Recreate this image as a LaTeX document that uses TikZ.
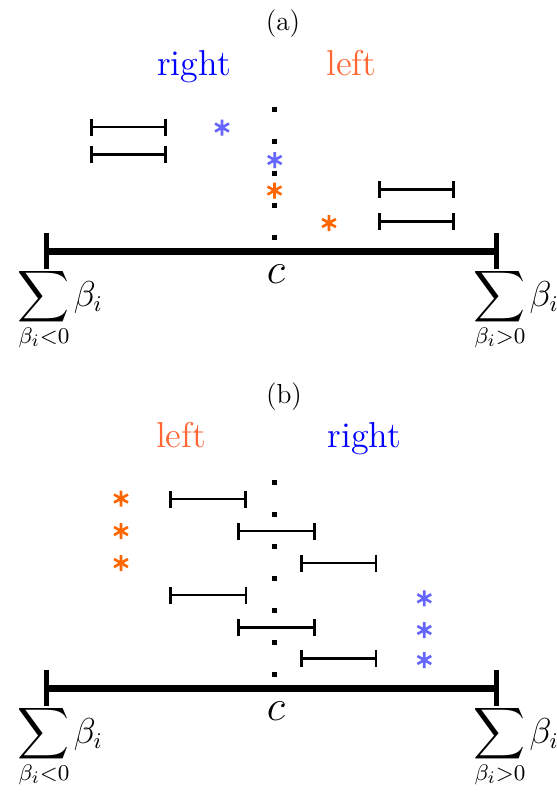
\documentclass[tikz,border=0pt]{standalone}
\usepackage{exscale}
\usetikzlibrary{arrows.meta}
\definecolor{wordblue}{RGB}{0,0,255}
\definecolor{wordorange}{RGB}{255,102,51}
\definecolor{starblue}{RGB}{102,102,255}
\definecolor{starorange}{RGB}{255,102,0}
\begin{document}
\begin{tikzpicture}[x=0.4pt,y=-0.4pt,
  every node/.style={inner sep=0pt, outer sep=0pt},
  interval/.style={line width=1.1pt, {Bar[width=6.8pt]}-{Bar[width=6.8pt]}},
  axisbar/.style={line width=2.8pt, {Bar[width=14.4pt,line width=2.1pt]}-{Bar[width=14.4pt,line width=2.1pt]}},
  centreline/.style={line width=2pt, dash pattern=on 2pt off 10.8pt},
  panel/.style={font=\fontsize{11}{13}\selectfont, anchor=base},
  word/.style={font=\fontsize{14.4}{17}\selectfont, anchor=base},
  cval/.style={font=\fontsize{17.28}{20}\selectfont, anchor=base},
  sumlabel/.style={font=\fontsize{13.5}{16}\selectfont, anchor=base},
  ast/.pic={\draw[line width=1.05pt] (0,-8) -- (0,8) (-6.93,-4) -- (6.93,4) (-6.93,4) -- (6.93,-4);}
]
\useasboundingbox (0,0) rectangle (556,796);

% ---------------- panel (a) ----------------
\node[panel] (labela) at (283,30) {(a)};
\node[word, text=wordblue] (righta) at (194,75) {right};
\node[word, text=wordorange] (lefta) at (351.5,75) {left};

\coordinate (ctopa) at (274.6,106.8);
\coordinate (cbota) at (274.6,240);
\draw[centreline] (ctopa) -- (cbota);

\coordinate (a1l) at (90,127);    \coordinate (a1r) at (167,127);
\coordinate (a2l) at (90,154.3);  \coordinate (a2r) at (167,154.3);
\coordinate (a3l) at (378,189.3); \coordinate (a3r) at (455,189.3);
\coordinate (a4l) at (378,221.7); \coordinate (a4r) at (455,221.7);
\draw[interval] (a1l) -- (a1r);
\draw[interval] (a2l) -- (a2r);
\draw[interval] (a3l) -- (a3r);
\draw[interval] (a4l) -- (a4r);

\pic[color=starblue] at (222,127.5) {ast};
\pic[color=starblue] at (274.7,160) {ast};
\pic[color=starorange] at (274.5,190.5) {ast};
\pic[color=starorange] at (329,223) {ast};

\coordinate (barla) at (44,251);
\coordinate (barra) at (499,251);
\draw[axisbar] (barla) -- (barra);
\node[cval] (ca) at (276,283) {$c$};
\node[sumlabel] (sumnega) at (44,306) {$\displaystyle\sum$\rlap{\kern1.5pt$\beta_i$}};
\node[sumlabel] (subnega) at (44,343) {$\scriptstyle\beta_i<0$};
\node[sumlabel] (sumposa) at (500,306) {$\displaystyle\sum$\rlap{\kern1.5pt$\beta_i$}};
\node[sumlabel] (subposa) at (500,343) {$\scriptstyle\beta_i>0$};

% ---------------- panel (b) ----------------
\node[panel] (labelb) at (284,403) {(b)};
\node[word, text=wordorange] (leftb) at (181,447) {left};
\node[word, text=wordblue] (rightb) at (364.5,447) {right};

\coordinate (ctopb) at (274.3,479.8);
\coordinate (cbotb) at (274.3,677);
\draw[centreline] (ctopb) -- (cbotb);

\coordinate (b1l) at (169.3,499);   \coordinate (b1r) at (246.7,499);
\coordinate (b2l) at (237.3,531);   \coordinate (b2r) at (315.7,531);
\coordinate (b3l) at (300,563);     \coordinate (b3r) at (377.3,563);
\coordinate (b4l) at (169.3,595);   \coordinate (b4r) at (247.3,595);
\coordinate (b5l) at (237.3,627.3); \coordinate (b5r) at (315.7,627.3);
\coordinate (b6l) at (300,658.3);   \coordinate (b6r) at (377.3,658.3);
\foreach \k in {1,...,6} {\draw[interval] (b\k l) -- (b\k r);}

\pic[color=starorange] at (121,498.5) {ast};
\pic[color=starorange] at (121,531) {ast};
\pic[color=starorange] at (121,563) {ast};
\pic[color=starblue] at (424.3,598.3) {ast};
\pic[color=starblue] at (424.3,630) {ast};
\pic[color=starblue] at (424.3,660) {ast};

\coordinate (barlb) at (44,688);
\coordinate (barrb) at (499,688);
\draw[axisbar] (barlb) -- (barrb);
\node[cval] (cb) at (276,720) {$c$};
\node[sumlabel] (sumnegb) at (44,743) {$\displaystyle\sum$\rlap{\kern1.5pt$\beta_i$}};
\node[sumlabel] (subnegb) at (44,780) {$\scriptstyle\beta_i<0$};
\node[sumlabel] (sumposb) at (500,743) {$\displaystyle\sum$\rlap{\kern1.5pt$\beta_i$}};
\node[sumlabel] (subposb) at (500,780) {$\scriptstyle\beta_i>0$};
\end{tikzpicture}
\end{document}
